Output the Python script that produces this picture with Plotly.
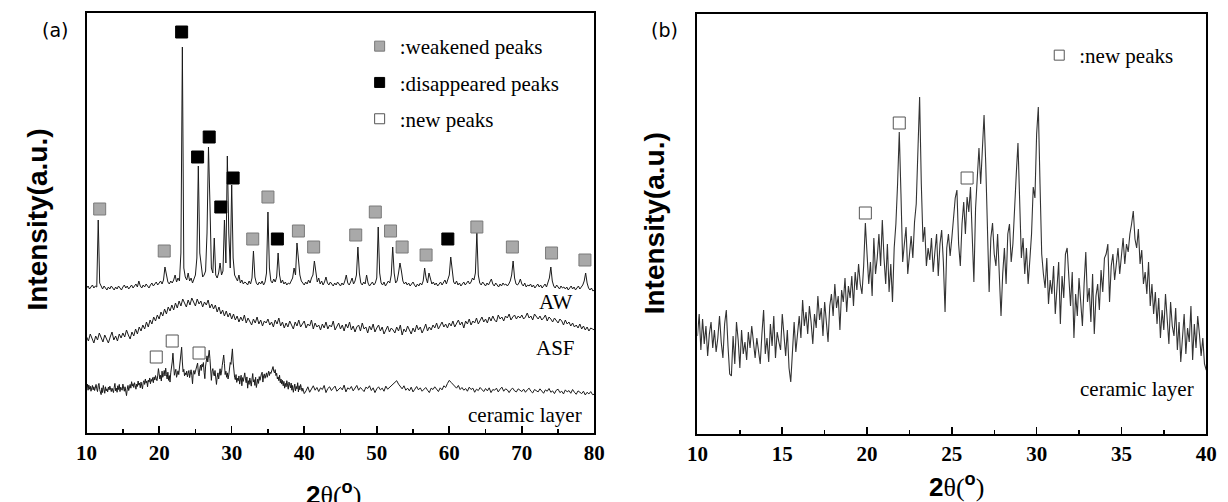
import plotly.graph_objects as go

W, H = 1228, 502

# ---------------- data ----------------
# AW pattern, 2theta from 10 to 80 in 0.2 deg steps (panel a units)
AW_START, AW_STEP = 10.0, 0.2
aw_intensity = [
    145, 147, 144, 146, 148, 145, 147, 146, 213, 150,
    146, 144, 147, 145, 143, 146, 144, 147, 145, 143,
    146, 144, 147, 145, 143, 146, 148, 145, 147, 144,
    146, 148, 145, 147, 149, 146, 152, 147, 145, 148,
    146, 149, 147, 145, 148, 150, 147, 149, 151, 148,
    150, 152, 149, 153, 166, 157, 151, 149, 152, 150,
    153, 158, 151, 155, 152, 180, 386, 165, 156, 153,
    160, 152, 155, 150, 154, 158, 175, 267, 180, 170,
    156, 158, 162, 200, 286, 230, 165, 160, 195, 158,
    155, 160, 170, 158, 162, 213, 170, 277, 200, 165,
    248, 175, 158, 155, 152, 158, 150, 153, 149, 151,
    150, 148, 152, 149, 155, 182, 156, 150, 148, 151,
    149, 152, 148, 151, 160, 221, 165, 152, 150, 154,
    151, 156, 180, 158, 150, 153, 149, 151, 148, 150,
    149, 152, 155, 165, 158, 190, 175, 158, 152, 150,
    148, 151, 149, 153, 150, 155, 158, 172, 160, 151,
    155, 149, 152, 148, 151, 156, 150, 148, 151, 149,
    147, 150, 148, 151, 149, 147, 150, 148, 152, 158,
    150, 148, 151, 155, 149, 152, 158, 186, 160, 150,
    148, 151, 149, 158, 150, 147, 149, 151, 148, 150,
    155, 206, 160, 150, 148, 151, 147, 149, 152, 150,
    158, 186, 160, 150, 152, 160, 170, 162, 152, 149,
    151, 148, 150, 147, 149, 151, 148, 146, 149, 147,
    150, 148, 152, 165, 155, 150, 160, 153, 149, 151,
    148, 150, 147, 149, 151, 148, 150, 153, 149, 155,
    158, 176, 160, 151, 149, 152, 148, 150, 147, 149,
    151, 148, 150, 152, 149, 151, 155, 153, 160, 200,
    158, 150, 148, 151, 149, 147, 150, 148, 151, 154,
    149, 147, 150, 148, 146, 149, 147, 150, 148, 149,
    147, 149, 152, 158, 172, 155, 149, 148, 150, 154,
    149, 147, 150, 146, 148, 147, 149, 146, 148, 145,
    147, 149, 146, 148, 145, 147, 149, 146, 150, 155,
    166, 152, 147, 145, 148, 146, 144, 147, 145, 146,
    144, 146, 143, 145, 147, 144, 146, 143, 145, 147,
    144, 146, 148, 152, 160, 150, 145, 143, 145, 142,
    143,
]

# ASF pattern, 10 to 80 in 0.25 deg steps (panel a units)
ASF_START, ASF_STEP = 10.0, 0.25
asf_intensity = [
    96, 92, 99, 94, 90, 97, 93, 100, 95, 91,
    98, 94, 90, 96, 101, 93, 97, 92, 99, 95,
    100, 96, 103, 98, 94, 101, 97, 104, 99, 106,
    102, 108, 104, 111, 106, 113, 109, 116, 112, 118,
    114, 121, 117, 124, 119, 126, 122, 128, 123, 130,
    125, 132, 127, 134, 129, 126, 133, 128, 135, 130,
    127, 134, 129, 132, 126, 131, 128, 133, 125, 129,
    124, 128, 121, 126, 119, 123, 117, 122, 116, 120,
    114, 119, 113, 117, 111, 116, 112, 118, 110, 115,
    112, 108, 114, 110, 116, 109, 113, 107, 112, 110,
    114, 108, 111, 106, 113, 109, 115, 107, 111, 105,
    110, 106, 112, 108, 104, 111, 107, 113, 106, 109,
    112, 105, 109, 107, 113, 104, 110, 106, 108, 103,
    109, 105, 111, 104, 108, 106, 112, 103, 107, 110,
    104, 108, 102, 109, 105, 111, 103, 107, 101, 106,
    108, 102, 110, 104, 106, 100, 107, 103, 109, 101,
    105, 108, 102, 106, 99, 104, 107, 101, 105, 103,
    100, 106, 102, 108, 98, 104, 101, 107, 103, 99,
    105, 101, 108, 103, 106, 100, 104, 109, 102, 106,
    103, 108, 105, 110, 104, 107, 111, 106, 109, 105,
    110, 107, 112, 106, 109, 113, 108, 111, 105, 112,
    109, 114, 108, 112, 110, 115, 109, 113, 116, 111,
    114, 110, 116, 112, 117, 113, 111, 118, 114, 116,
    112, 117, 115, 119, 113, 116, 118, 114, 117, 115,
    118, 114, 116, 120, 115, 117, 113, 119, 116, 114,
    117, 113, 115, 118, 112, 116, 114, 111, 115, 113,
    110, 114, 112, 108, 113, 109, 111, 107, 110, 106,
    108, 105, 109, 104, 107, 103, 106, 102, 105, 104,
    103,
]

# Ceramic layer, 10 to 40 in 0.1 deg steps (panel b units)
CER_START, CER_STEP = 10.0, 0.1
ceramic_intensity = [
    98, 120, 84, 115, 90, 108, 78, 100, 112, 86,
    104, 82, 96, 118, 92, 76, 110, 124, 88, 60,
    58, 98, 70, 112, 94, 66, 104, 80, 92, 74,
    102, 86, 108, 90, 76, 96, 84, 70, 100, 124,
    80, 96, 72, 110, 88, 118, 76, 102, 92, 84,
    120, 94, 78, 104, 66, 52, 90, 112, 82, 100,
    118, 96, 134, 108, 122, 100, 128, 112, 90, 120,
    106, 138, 114, 126, 98, 132, 110, 92, 128, 140,
    118, 150, 126, 138, 104, 144, 132, 156, 122, 148,
    136, 158, 128, 162, 144, 170, 150, 140, 168, 211,
    180, 150, 172, 138, 196, 160, 176, 200, 168, 214,
    176, 150, 190, 142, 170, 132, 186, 210, 250, 302,
    240, 172, 190, 207, 160, 184, 198, 176, 212, 230,
    280, 337, 250, 192, 207, 168, 186, 174, 196, 162,
    182, 200, 158, 190, 204, 172, 122, 186, 200, 178,
    196, 216, 236, 244, 190, 168, 210, 232, 200, 237,
    222, 247, 190, 152, 226, 262, 286, 250, 280, 319,
    270, 210, 142, 196, 211, 180, 168, 200, 150, 118,
    160, 186, 150, 200, 210, 172, 190, 230, 260, 291,
    240, 176, 196, 160, 186, 150, 174, 200, 247, 236,
    300, 327, 250, 180, 160, 146, 176, 130, 154, 140,
    168, 120, 146, 172, 110, 158, 136, 180, 186, 150,
    128, 162, 96, 140, 118, 156, 134, 108, 150, 182,
    132, 146, 112, 160, 100, 138, 150, 124, 164, 142,
    176, 180, 190, 132, 168, 180, 154, 172, 186, 160,
    178, 196, 170, 190, 182, 200, 210, 223, 195, 186,
    205, 170, 184, 150, 162, 140, 172, 128, 150, 120,
    142, 110, 136, 96, 124, 104, 140, 118, 90, 132,
    108, 98, 126, 84, 112, 72, 96, 120, 80, 106,
    92, 128, 74, 110, 86, 118, 100, 78, 96, 70,
    64,
]
# Ceramic layer continued, 40.25 to 80 in 0.25 deg steps (panel b units)
CER_TAIL_START, CER_TAIL_STEP = 40.25, 0.25
ceramic_tail_intensity = [
    80, 104, 72, 96, 110, 84, 100, 76,
    98, 88, 112, 70, 94, 104, 82, 96,
    108, 78, 92, 100, 86, 114, 74, 98,
    90, 106, 80, 96, 112, 84, 100, 88,
    76, 102, 94, 110, 82, 98, 70, 92,
    104, 86, 96, 78, 108, 90, 100, 112,
    118, 130, 140, 120, 104, 92, 110, 84,
    96, 80, 102, 74, 90, 106, 86, 98,
    78, 92, 100, 84, 70, 96, 88, 104,
    90, 76, 98, 86, 110, 100, 124, 142,
    130, 120, 108, 96, 112, 88, 100, 84,
    94, 78, 102, 88, 96, 72, 90, 82,
    100, 86, 76, 94, 80, 98, 70, 88,
    84, 96, 74, 90, 102, 78, 92, 86,
    70, 88, 96, 80, 74, 92, 84, 76,
    90, 72, 86, 96, 78, 68, 88, 80,
    74, 92, 82, 66, 86, 78, 94, 72,
    80, 64, 84, 90, 70, 78, 62, 86,
    74, 82, 66, 88, 72, 60, 80, 70,
    64, 78, 56, 72, 62, 76, 58, 60,
]
# ceramic layer display in panel (a): stacked with offset & compressed scale
CER_A_OFFSET, CER_A_BASE, CER_A_SCALE = 45, 97, 0.17

# Peak markers, panel (a)
weakened_x = [11.8, 20.7, 32.9, 35.0, 39.2, 41.3, 47.1, 49.8, 51.9, 53.5,
              56.8, 63.8, 68.7, 74.1, 78.7]
weakened_y = [224, 182, 194, 236, 202, 186, 198, 221, 202, 186,
              178, 206, 186, 180, 173]
disappeared_x = [23.1, 25.3, 26.9, 28.5, 30.2, 36.3, 59.8]
disappeared_y = [401, 276, 296, 226, 255, 194, 194]
new_a_x = [19.6, 21.8, 25.5]
new_a_y = [76, 92, 80]
# Peak markers, panel (b)
new_b_x = [19.9, 21.9, 25.9]
new_b_y = [221, 311, 256]

ticks_a = [10, 20, 30, 40, 50, 60, 70, 80]
ticks_b = [10, 15, 20, 25, 30, 35, 40]
Y_RANGE = [0, 420]

# ---------------- build ----------------
aw_x = [AW_START + AW_STEP * i for i in range(len(aw_intensity))]
asf_x = [ASF_START + ASF_STEP * i for i in range(len(asf_intensity))]
cer_x = [CER_START + CER_STEP * i for i in range(len(ceramic_intensity))]
cer_tail_x = [CER_TAIL_START + CER_TAIL_STEP * i for i in range(len(ceramic_tail_intensity))]
cer_a_x = cer_x + cer_tail_x
cer_a_y = [CER_A_OFFSET + (v - CER_A_BASE) * CER_A_SCALE
           for v in ceramic_intensity + ceramic_tail_intensity]

LINE = "#1a1a1a"
GRAY_FILL, GRAY_EDGE = "#a9a9a9", "#7a7a7a"
SERIF = "Liberation Serif"
SANS = "Liberation Sans"

fig = go.Figure()
for xs, ys in [(aw_x, aw_intensity), (asf_x, asf_intensity), (cer_a_x, cer_a_y)]:
    fig.add_trace(go.Scatter(x=xs, y=ys, mode="lines", xaxis="x", yaxis="y",
                             line=dict(color=LINE, width=1), showlegend=False,
                             hoverinfo="skip"))
fig.add_trace(go.Scatter(x=cer_x, y=ceramic_intensity, mode="lines", xaxis="x2", yaxis="y2",
                         line=dict(color="#333333", width=1.1), showlegend=False,
                         hoverinfo="skip"))

def sq(fill, edge, size=12):
    return dict(symbol="square", size=size, color=fill, line=dict(color=edge, width=1))

fig.add_trace(go.Scatter(x=weakened_x, y=weakened_y, mode="markers", xaxis="x", yaxis="y",
                         marker=sq(GRAY_FILL, GRAY_EDGE), showlegend=False))
fig.add_trace(go.Scatter(x=disappeared_x, y=disappeared_y, mode="markers", xaxis="x", yaxis="y",
                         marker=sq("#000000", "#000000"), showlegend=False))
fig.add_trace(go.Scatter(x=new_a_x, y=new_a_y, mode="markers", xaxis="x", yaxis="y",
                         marker=sq("#ffffff", "#555555"), showlegend=False))
fig.add_trace(go.Scatter(x=new_b_x, y=new_b_y, mode="markers", xaxis="x2", yaxis="y2",
                         marker=sq("#ffffff", "#555555"), showlegend=False))

# legend entries
leg_items = [(":weakened peaks", GRAY_FILL, GRAY_EDGE, "legend", "g1"),
             (":disappeared peaks", "#000000", "#000000", "legend", "g2"),
             (":new peaks", "#ffffff", "#555555", "legend", "g3"),
             (":new peaks", "#ffffff", "#555555", "legend2", "g4")]
for name, fill, edge, leg, grp in leg_items:
    fig.add_trace(go.Scatter(x=[None], y=[None], mode="markers", name=name,
                             xaxis="x" if leg == "legend" else "x2",
                             yaxis="y" if leg == "legend" else "y2",
                             marker=sq(fill, edge, 10), legend=leg, legendgroup=grp,
                             showlegend=True))

xa_dom = [77 / W, 594 / W]
ya_dom = [69 / H, 489 / H]
xb_dom = [699 / W, 1217 / W]
yb_dom = [68 / H, 488 / H]

def xaxis(dom, rng, ticks, minor_dtick, anchor):
    return dict(domain=dom, range=rng, tickmode="array", tickvals=ticks,
                ticktext=[str(t) for t in ticks], ticks="inside", ticklen=7, tickwidth=1.6,
                tickcolor="black",
                minor=dict(ticks="inside", ticklen=4, tickwidth=1.4, dtick=minor_dtick,
                           tick0=ticks[0], tickcolor="black"),
                showline=True, linewidth=2, linecolor="black", mirror=True,
                showgrid=False, zeroline=False, anchor=anchor,
                tickfont=dict(family=SERIF, size=21, color="black", weight="bold"))

def yaxis(dom, anchor):
    return dict(domain=dom, range=Y_RANGE, showticklabels=False, ticks="",
                showline=True, linewidth=2, linecolor="black", mirror=True,
                showgrid=False, zeroline=False, anchor=anchor)

ann = []
def text(x, y, s, size, family, xref="paper", yref="paper", angle=0, weight="normal",
         xanchor="center"):
    ann.append(dict(x=x, y=y, xref=xref, yref=yref, text=s, showarrow=False,
                    textangle=angle, xanchor=xanchor, yanchor="middle",
                    font=dict(family=family, size=size, color="black", weight=weight)))

text(45 / W, 1 - 30 / H, "(a)", 19, "DejaVu Sans")
text(665 / W, 1 - 30 / H, "(b)", 19, "DejaVu Sans")
text(26 / W, 1 - 220 / H, "Intensity(a.u.)", 28, SANS, angle=-90, weight="bold")
text(655 / W, 1 - 223 / H, "Intensity(a.u.)", 28, SANS, angle=-90, weight="bold")
xt = ("<b>2</b><span style='font-family:Liberation Serif'>θ(</span>"
      "<sup><b>o</b></sup><span style='font-family:Liberation Serif'>)</span>")
text(328 / W, 1 - 493 / H, xt, 26, SANS)
text(963 / W, 1 - 485 / H, xt, 26, SANS)
text(74.6, 131, "AW", 21, SERIF, xref="x", yref="y")
text(74.6, 85, "ASF", 21, SERIF, xref="x", yref="y")
text(70.4, 18, "ceramic layer", 21, SERIF, xref="x", yref="y")
text(35.9, 45, "ceramic layer", 21, SERIF, xref="x2", yref="y2")

leg_font = dict(family=SERIF, size=21, color="black")
fig.update_layout(
    width=W, height=H, margin=dict(l=0, r=0, t=0, b=0),
    paper_bgcolor="white", plot_bgcolor="white",
    xaxis=xaxis(xa_dom, [10, 80], ticks_a, 5, "y"),
    yaxis=yaxis(ya_dom, "x"),
    xaxis2=xaxis(xb_dom, [10, 40], ticks_b, 2.5, "y2"),
    yaxis2=yaxis(yb_dom, "x2"),
    annotations=ann,
    legend=dict(x=355 / W, y=1 - 26 / H, xanchor="left", yanchor="top",
                font=leg_font, bgcolor="rgba(0,0,0,0)", tracegroupgap=6,
                itemwidth=30),
    legend2=dict(x=1047 / W, y=1 - 35 / H, xanchor="left", yanchor="top",
                 font=leg_font, bgcolor="rgba(0,0,0,0)", itemwidth=30),
    showlegend=True,
)

fig.write_html("out.html",
               config={"displayModeBar": False, "staticPlot": True},
               post_script="document.body.style.margin='0px';"
                           "document.body.style.overflow='hidden';")
